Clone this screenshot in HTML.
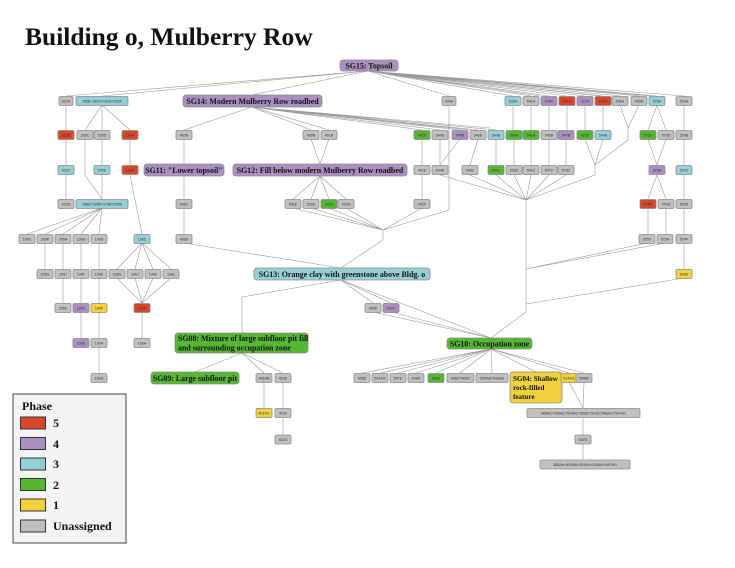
<!DOCTYPE html>
<html><head><meta charset="utf-8"><style>
html,body{margin:0;padding:0;background:#fff;}
svg{display:block}
.n{stroke:#8a8a8a;stroke-width:0.8}
.g{fill:#c0c0c0}.c{fill:#96d0d6}.p{fill:#ab8fc0}.r{fill:#d9472b}.gr{fill:#55b733}.y{fill:#f1d23c}
.t{font-family:"Liberation Sans",sans-serif;font-size:3.6px;fill:#333;text-anchor:middle}
.b{font-family:"Liberation Serif",serif;font-weight:bold;font-size:7.9px;fill:#111;text-anchor:middle}
.e{stroke:#9a9a9a;stroke-width:0.6;fill:none}
</style></head><body>
<svg width="735" height="568" viewBox="0 0 735 568" xmlns="http://www.w3.org/2000/svg">
<text x="25" y="45" font-family="Liberation Serif,serif" font-weight="bold" font-size="25.5" fill="#111">Building o, Mulberry Row</text>
<g class="e">
<path d="M368 71L66 96M368 71L102 96M368 71L252 95M368 71L449 96M368 71L513 96M368 71L531 96M368 71L549 96M368 71L567 96M368 71L585 96M368 71L603 96M368 71L620 96M368 71L639 96M368 71L657 96M368 71L684 96M368 71L540 96M368 71L600 96M368 71L650 96"/>
<path d="M252 107L184 130M252 107L311 130M252 107L329 130M252 107L422 130M252 107L440 130M252 107L460 130M252 107L478 130M252 107L496 130M252 107L470 130M252 107L490 128"/>
<path d="M66 105V130M102 105L85 130M102 105V130M102 105L130 130M513 105V130M531 105V130M549 105V130M567 105V130M585 105V130M603 105V130M657 105L648 130M657 105L666 130M684 105V130"/>
<path d="M620 105L628 128M639 105L628 128L628 140L595 165M585 139L595 165M603 139L595 165M595 165V175L526 200"/>
<path d="M66 139V165M102 139V165M130 139V165M440 139V165M460 139L440 165M422 139V165M478 139L470 165M496 139V165M514 139V165M531 139V165M549 139V165M566 139V165M648 139L657 165M666 139L657 165M684 139V165"/>
<path d="M85 139V175L102 199"/>
<path d="M440 175L526 200M470 175L526 200M496 175L526 200M514 175L526 200M531 175L526 200M549 175L526 200M566 175L526 200M526 200V312L491 338"/>
<path d="M66 175V199M102 175V199M130 175L142 234M184 176V199M184 208V234M422 175V199M657 175L648 199M657 175L666 199M684 175V199"/>
<path d="M184 139V164M311 139L320 164M329 139L320 164"/>
<path d="M320 176L293 199M320 176L311 199M320 176L329 199M320 176L346 199"/>
<path d="M293 208L383 230M311 208L383 230M329 208L383 230M346 208L383 230M422 208L383 230M449 105V210L383 230M383 230V240L341 268M184 243L341 268"/>
<path d="M102 208L27 234M102 208L45 234M102 208L63 234M102 208L81 234M102 208L99 234"/>
<path d="M45 243V269M63 243V269M81 243V269M99 243V269M142 243L117 269M142 243L135 269M142 243L153 269M142 243L171 269"/>
<path d="M117 278L142 303M135 278L142 303M153 278L142 303M171 278L142 303"/>
<path d="M63 278V303M81 278V303M99 278V303M81 312V338M99 312V338M142 312V338M99 347V373"/>
<path d="M648 208V234M666 208V234M684 208V234M647 243L526 269M665 243L526 269M684 243V269M684 278L526 304"/>
<path d="M341 280L242 297V333M341 280L373 303M341 280L391 303M341 280L491 338M373 312L491 338M391 312L491 338"/>
<path d="M491 349L362 373M491 349L380 373M491 349L398 373M491 349L416 373M491 349L436 373M491 349L460 373M491 349L492 373M491 349L536 372M491 349L569 373M491 349L584 373"/>
<path d="M242 353L195 372M242 353L264 373M242 353L283 373M264 382V408M283 382V408M283 417V435"/>
<path d="M569 382L583 408M584 382L583 408M583 417V435M583 443V460"/>
</g>
<rect class="n p" x="340" y="60" width="58" height="11" rx="3"/><text class="b" x="369" y="68.5">SG15: Topsoil</text>
<rect class="n p" x="183" y="95" width="139" height="12" rx="3"/><text class="b" x="252.5" y="103.8">SG14: Modern Mulberry Row roadbed</text>
<rect class="n p" x="144" y="164" width="80" height="12" rx="3"/><text class="b" x="184" y="172.8">SG11: "Lower topsoil"</text>
<rect class="n p" x="233" y="164" width="174" height="12" rx="3"/><text class="b" x="320" y="172.8">SG12: Fill below modern Mulberry Row roadbed</text>
<rect class="n c" x="254" y="268" width="176" height="12" rx="3"/><text class="b" x="342" y="276.8">SG13: Orange clay with greenstone above Bldg. o</text>
<rect class="n gr" x="175" y="333" width="133" height="20" rx="3"/><text class="b" x="178" y="341" style="text-anchor:start">SG08: Mixture of large subfloor pit fill</text><text class="b" x="178" y="350.5" style="text-anchor:start">and surrounding occupation zone</text>
<rect class="n gr" x="151" y="372" width="88" height="12" rx="3"/><text class="b" x="195" y="380.8">SG09: Large subfloor pit</text>
<rect class="n gr" x="447" y="338" width="85" height="11" rx="3"/><text class="b" x="489.5" y="346.3">SG10: Occupation zone</text>
<rect class="n y" x="510" y="372" width="52" height="31" rx="3"/><g style="font-size:7.1px"><text class="b" x="513" y="381" style="text-anchor:start;font-size:7.1px">SG04: Shallow</text><text class="b" x="513" y="390" style="text-anchor:start;font-size:7.1px">rock-filled</text><text class="b" x="513" y="399" style="text-anchor:start;font-size:7.1px">feature</text></g>
<g>
<rect class="n g" x="59" y="96.5" width="14" height="9" rx="1.5"/><text class="t" x="66" y="102.3">622A</text>
<rect class="n c" x="76" y="96.5" width="52" height="9" rx="1.5"/><text class="t" x="102" y="102.3">185B=181A=192A=205A</text>
<rect class="n g" x="442" y="96.5" width="14" height="9" rx="1.5"/><text class="t" x="449" y="102.3">404A</text>
<rect class="n c" x="505" y="96.5" width="16" height="9" rx="1.5"/><text class="t" x="513" y="102.3">506A</text>
<rect class="n g" x="523" y="96.5" width="16" height="9" rx="1.5"/><text class="t" x="531" y="102.3">541A</text>
<rect class="n p" x="541" y="96.5" width="16" height="9" rx="1.5"/><text class="t" x="549" y="102.3">545A</text>
<rect class="n r" x="559" y="96.5" width="16" height="9" rx="1.5"/><text class="t" x="567" y="102.3">547A</text>
<rect class="n p" x="577" y="96.5" width="16" height="9" rx="1.5"/><text class="t" x="585" y="102.3">423A</text>
<rect class="n r" x="595" y="96.5" width="16" height="9" rx="1.5"/><text class="t" x="603" y="102.3">544A</text>
<rect class="n g" x="612" y="96.5" width="16" height="9" rx="1.5"/><text class="t" x="620" y="102.3">546A</text>
<rect class="n g" x="631" y="96.5" width="16" height="9" rx="1.5"/><text class="t" x="639" y="102.3">420B</text>
<rect class="n c" x="649" y="96.5" width="16" height="9" rx="1.5"/><text class="t" x="657" y="102.3">575A</text>
<rect class="n g" x="676" y="96.5" width="16" height="9" rx="1.5"/><text class="t" x="684" y="102.3">524A</text>

<rect class="n r" x="58" y="130.5" width="16" height="9" rx="1.5"/><text class="t" x="66" y="136.3">622B</text>
<rect class="n g" x="77" y="130.5" width="16" height="9" rx="1.5"/><text class="t" x="85" y="136.3">205C</text>
<rect class="n g" x="94" y="130.5" width="16" height="9" rx="1.5"/><text class="t" x="102" y="136.3">205D</text>
<rect class="n r" x="122" y="130.5" width="16" height="9" rx="1.5"/><text class="t" x="130" y="136.3">196A</text>
<rect class="n g" x="176" y="130.5" width="16" height="9" rx="1.5"/><text class="t" x="184" y="136.3">402B</text>
<rect class="n g" x="303" y="130.5" width="16" height="9" rx="1.5"/><text class="t" x="311" y="136.3">400B</text>
<rect class="n g" x="321" y="130.5" width="16" height="9" rx="1.5"/><text class="t" x="329" y="136.3">401B</text>
<rect class="n gr" x="414" y="130.5" width="16" height="9" rx="1.5"/><text class="t" x="422" y="136.3">402D</text>
<rect class="n g" x="432" y="130.5" width="16" height="9" rx="1.5"/><text class="t" x="440" y="136.3">544D</text>
<rect class="n p" x="452" y="130.5" width="16" height="9" rx="1.5"/><text class="t" x="460" y="136.3">548B</text>
<rect class="n g" x="470" y="130.5" width="16" height="9" rx="1.5"/><text class="t" x="478" y="136.3">546B</text>
<rect class="n c" x="488" y="130.5" width="16" height="9" rx="1.5"/><text class="t" x="496" y="136.3">549B</text>
<rect class="n gr" x="506" y="130.5" width="16" height="9" rx="1.5"/><text class="t" x="514" y="136.3">506B</text>
<rect class="n gr" x="523" y="130.5" width="16" height="9" rx="1.5"/><text class="t" x="531" y="136.3">541B</text>
<rect class="n g" x="541" y="130.5" width="16" height="9" rx="1.5"/><text class="t" x="549" y="136.3">545B</text>
<rect class="n p" x="558" y="130.5" width="16" height="9" rx="1.5"/><text class="t" x="566" y="136.3">547B</text>
<rect class="n gr" x="577" y="130.5" width="16" height="9" rx="1.5"/><text class="t" x="585" y="136.3">423B</text>
<rect class="n c" x="595" y="130.5" width="16" height="9" rx="1.5"/><text class="t" x="603" y="136.3">544B</text>
<rect class="n gr" x="640" y="130.5" width="16" height="9" rx="1.5"/><text class="t" x="648" y="136.3">575C</text>
<rect class="n g" x="658" y="130.5" width="16" height="9" rx="1.5"/><text class="t" x="666" y="136.3">575D</text>
<rect class="n g" x="676" y="130.5" width="16" height="9" rx="1.5"/><text class="t" x="684" y="136.3">524B</text>

<rect class="n c" x="58" y="165.5" width="16" height="9" rx="1.5"/><text class="t" x="66" y="171.3">622C</text>
<rect class="n c" x="94" y="165.5" width="16" height="9" rx="1.5"/><text class="t" x="102" y="171.3">205E</text>
<rect class="n r" x="122" y="165.5" width="16" height="9" rx="1.5"/><text class="t" x="130" y="171.3">196B</text>
<rect class="n g" x="414" y="165.5" width="16" height="9" rx="1.5"/><text class="t" x="422" y="171.3">402E</text>
<rect class="n g" x="432" y="165.5" width="16" height="9" rx="1.5"/><text class="t" x="440" y="171.3">544E</text>
<rect class="n g" x="462" y="165.5" width="16" height="9" rx="1.5"/><text class="t" x="470" y="171.3">544C</text>
<rect class="n gr" x="488" y="165.5" width="16" height="9" rx="1.5"/><text class="t" x="496" y="171.3">545C</text>
<rect class="n g" x="506" y="165.5" width="16" height="9" rx="1.5"/><text class="t" x="514" y="171.3">538C</text>
<rect class="n g" x="523" y="165.5" width="16" height="9" rx="1.5"/><text class="t" x="531" y="171.3">541C</text>
<rect class="n g" x="541" y="165.5" width="16" height="9" rx="1.5"/><text class="t" x="549" y="171.3">547C</text>
<rect class="n g" x="558" y="165.5" width="16" height="9" rx="1.5"/><text class="t" x="566" y="171.3">575C</text>
<rect class="n p" x="649" y="165.5" width="16" height="9" rx="1.5"/><text class="t" x="657" y="171.3">575B</text>
<rect class="n c" x="676" y="165.5" width="16" height="9" rx="1.5"/><text class="t" x="684" y="171.3">524C</text>

<rect class="n g" x="58" y="199.5" width="16" height="9" rx="1.5"/><text class="t" x="66" y="205.3">622D</text>
<rect class="n c" x="76" y="199.5" width="52" height="9" rx="1.5"/><text class="t" x="102" y="205.3">186A=185B=170B=205B</text>
<rect class="n g" x="176" y="199.5" width="16" height="9" rx="1.5"/><text class="t" x="184" y="205.3">406C</text>
<rect class="n g" x="285" y="199.5" width="16" height="9" rx="1.5"/><text class="t" x="293" y="205.3">401E</text>
<rect class="n g" x="303" y="199.5" width="16" height="9" rx="1.5"/><text class="t" x="311" y="205.3">520D</text>
<rect class="n gr" x="321" y="199.5" width="16" height="9" rx="1.5"/><text class="t" x="329" y="205.3">521D</text>
<rect class="n g" x="338" y="199.5" width="16" height="9" rx="1.5"/><text class="t" x="346" y="205.3">520D</text>
<rect class="n g" x="414" y="199.5" width="16" height="9" rx="1.5"/><text class="t" x="422" y="205.3">402F</text>
<rect class="n r" x="640" y="199.5" width="16" height="9" rx="1.5"/><text class="t" x="648" y="205.3">575E</text>
<rect class="n g" x="658" y="199.5" width="16" height="9" rx="1.5"/><text class="t" x="666" y="205.3">575G</text>
<rect class="n g" x="676" y="199.5" width="16" height="9" rx="1.5"/><text class="t" x="684" y="205.3">524D</text>

<rect class="n g" x="19" y="234.5" width="16" height="9" rx="1.5"/><text class="t" x="27" y="240.3">190C</text>
<rect class="n g" x="37" y="234.5" width="16" height="9" rx="1.5"/><text class="t" x="45" y="240.3">205F</text>
<rect class="n g" x="55" y="234.5" width="16" height="9" rx="1.5"/><text class="t" x="63" y="240.3">205H</text>
<rect class="n g" x="73" y="234.5" width="16" height="9" rx="1.5"/><text class="t" x="81" y="240.3">190D</text>
<rect class="n g" x="91" y="234.5" width="16" height="9" rx="1.5"/><text class="t" x="99" y="240.3">190D</text>
<rect class="n c" x="134" y="234.5" width="16" height="9" rx="1.5"/><text class="t" x="142" y="240.3">196C</text>
<rect class="n g" x="176" y="234.5" width="16" height="9" rx="1.5"/><text class="t" x="184" y="240.3">406D</text>
<rect class="n g" x="639" y="234.5" width="16" height="9" rx="1.5"/><text class="t" x="647" y="240.3">575F</text>
<rect class="n g" x="657" y="234.5" width="16" height="9" rx="1.5"/><text class="t" x="665" y="240.3">575H</text>
<rect class="n g" x="676" y="234.5" width="16" height="9" rx="1.5"/><text class="t" x="684" y="240.3">524F</text>

<rect class="n g" x="37" y="269.5" width="16" height="9" rx="1.5"/><text class="t" x="45" y="275.3">205G</text>
<rect class="n g" x="55" y="269.5" width="16" height="9" rx="1.5"/><text class="t" x="63" y="275.3">205J</text>
<rect class="n g" x="73" y="269.5" width="16" height="9" rx="1.5"/><text class="t" x="81" y="275.3">190F</text>
<rect class="n g" x="91" y="269.5" width="16" height="9" rx="1.5"/><text class="t" x="99" y="275.3">190E</text>
<rect class="n g" x="109" y="269.5" width="16" height="9" rx="1.5"/><text class="t" x="117" y="275.3">196G</text>
<rect class="n g" x="127" y="269.5" width="16" height="9" rx="1.5"/><text class="t" x="135" y="275.3">196J</text>
<rect class="n g" x="145" y="269.5" width="16" height="9" rx="1.5"/><text class="t" x="153" y="275.3">196K</text>
<rect class="n g" x="163" y="269.5" width="16" height="9" rx="1.5"/><text class="t" x="171" y="275.3">196L</text>
<rect class="n y" x="676" y="269.5" width="16" height="9" rx="1.5"/><text class="t" x="684" y="275.3">524E</text>

<rect class="n g" x="55" y="303.5" width="16" height="9" rx="1.5"/><text class="t" x="63" y="309.3">205K</text>
<rect class="n p" x="73" y="303.5" width="16" height="9" rx="1.5"/><text class="t" x="81" y="309.3">190G</text>
<rect class="n y" x="91" y="303.5" width="16" height="9" rx="1.5"/><text class="t" x="99" y="309.3">190F</text>
<rect class="n r" x="134" y="303.5" width="16" height="9" rx="1.5"/><text class="t" x="142" y="309.3">196F</text>
<rect class="n g" x="365" y="303.5" width="16" height="9" rx="1.5"/><text class="t" x="373" y="309.3">403D</text>
<rect class="n p" x="383" y="303.5" width="16" height="9" rx="1.5"/><text class="t" x="391" y="309.3">520C</text>

<rect class="n p" x="73" y="338.5" width="16" height="9" rx="1.5"/><text class="t" x="81" y="344.3">190E</text>
<rect class="n g" x="91" y="338.5" width="16" height="9" rx="1.5"/><text class="t" x="99" y="344.3">190H</text>
<rect class="n g" x="134" y="338.5" width="16" height="9" rx="1.5"/><text class="t" x="142" y="344.3">196H</text>

<rect class="n g" x="91" y="373.5" width="16" height="9" rx="1.5"/><text class="t" x="99" y="379.3">190G</text>
<rect class="n g" x="256" y="373.5" width="16" height="9" rx="1.5"/><text class="t" x="264" y="379.3">401AB</text>
<rect class="n g" x="275" y="373.5" width="16" height="9" rx="1.5"/><text class="t" x="283" y="379.3">402E</text>
<rect class="n g" x="354" y="373.5" width="16" height="9" rx="1.5"/><text class="t" x="362" y="379.3">406E</text>
<rect class="n g" x="372" y="373.5" width="16" height="9" rx="1.5"/><text class="t" x="380" y="379.3">524AG</text>
<rect class="n g" x="390" y="373.5" width="16" height="9" rx="1.5"/><text class="t" x="398" y="379.3">547E</text>
<rect class="n g" x="408" y="373.5" width="16" height="9" rx="1.5"/><text class="t" x="416" y="379.3">548D</text>
<rect class="n gr" x="428" y="373.5" width="16" height="9" rx="1.5"/><text class="t" x="436" y="379.3">289C</text>
<rect class="n g" x="447" y="373.5" width="27" height="9" rx="1.5"/><text class="t" x="460.5" y="379.3">405C=406C</text>
<rect class="n g" x="476" y="373.5" width="32" height="9" rx="1.5"/><text class="t" x="492" y="379.3">530AB=548AB</text>
<rect class="n y" x="561" y="373.5" width="16" height="9" rx="1.5"/><text class="t" x="569" y="379.3">524AG</text>
<rect class="n g" x="576" y="373.5" width="16" height="9" rx="1.5"/><text class="t" x="584" y="379.3">550AF</text>

<rect class="n y" x="256" y="408.5" width="16" height="9" rx="1.5"/><text class="t" x="264" y="414.3">401AC</text>
<rect class="n g" x="275" y="408.5" width="16" height="9" rx="1.5"/><text class="t" x="283" y="414.3">402F</text>
<rect class="n g" x="527" y="408.5" width="113" height="9" rx="1.5"/><text class="t" x="583.5" y="414.3">488AD=405AD=524AG=508D=541D=546AG=547AG</text>
<rect class="n g" x="275" y="435" width="16" height="9" rx="1.5"/><text class="t" x="283" y="440.8">402G</text>
<rect class="n g" x="575" y="435" width="16" height="9" rx="1.5"/><text class="t" x="583" y="440.8">547D</text>
<rect class="n g" x="540" y="460" width="90" height="9" rx="1.5"/><text class="t" x="585" y="465.8">488AH=405AH=524AH=536AH=547AH</text>
</g>
<rect x="13" y="394" width="113" height="149" fill="#f3f4f6" stroke="#444" stroke-width="1"/>
<text x="22" y="410" font-family="Liberation Serif,serif" font-weight="bold" font-size="12" fill="#111">Phase</text>
<g stroke="#333" stroke-width="1">
<rect x="20.5" y="417" width="25" height="12" fill="#d9472b"/>
<rect x="20.5" y="437.5" width="25" height="12" fill="#ab8fc0"/>
<rect x="20.5" y="458" width="25" height="12" fill="#96d0d6"/>
<rect x="20.5" y="478.5" width="25" height="12" fill="#55b733"/>
<rect x="20.5" y="499" width="25" height="12" fill="#f1d23c"/>
<rect x="20.5" y="520" width="25" height="12" fill="#c0c0c0"/>
</g>
<g font-family="Liberation Serif,serif" font-weight="bold" font-size="12" fill="#111">
<text x="53" y="427">5</text><text x="53" y="448">4</text><text x="53" y="468">3</text><text x="53" y="489">2</text><text x="53" y="509">1</text><text x="53" y="530">Unassigned</text>
</g>
</svg>
</body></html>
